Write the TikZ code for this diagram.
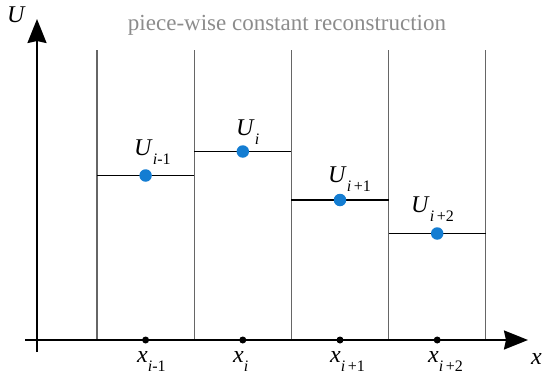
\documentclass[tikz,border=0pt]{standalone}
\usepackage{fontspec}
\setmainfont{Liberation Serif}
\usetikzlibrary{arrows.meta}

\tikzset{
  cell line/.style={draw=gray!80!black, line width=1.1pt},
  level line/.style={draw=black, line width=1.7pt},
  axis line/.style={line width=2.2pt,
                    -{Stealth[length=24pt, width=19pt, inset=2pt]}},
  cdot/.style={circle, fill=ucol, inner sep=0, minimum size=12.5pt},
  xdot/.style={circle, fill=black, inner sep=0, minimum size=7pt},
  lbl/.style={font=\fontsize{24}{26}\selectfont, inner sep=0, anchor=base west},
}
\definecolor{ucol}{RGB}{20,125,210}
\colorlet{tcol}{gray!90}
\newcommand{\sublbl}[1]{\raisebox{-0.4em}{\fontsize{16}{16}\selectfont #1}}

\begin{document}
\begin{tikzpicture}[x=1pt, y=-1pt]
        % 1 unit = 1 px of the 542 x 375 frame, y pointing down
        % cell edges: x = 97 + k*97.2,  k = 0..4
        % cell levels: 175.5, 151.5, 200, 233.5
        % x-axis at y = 340, U-axis at x = 37
        \useasboundingbox (0,0) rectangle (542,375);

        % ---- title ----
        \node[font=\fontsize{23}{25}\selectfont, text=tcol, anchor=base, inner sep=0]
          (title) at (287,30) {piece-wise constant reconstruction};

        % ---- cell edges ----
        \foreach \k in {0,...,4} {
          \pgfmathsetmacro{\cx}{97 + \k*97.2}
          \coordinate (top\k) at (\cx,50);
          \coordinate (bot\k) at (\cx,340);
          \draw[cell line] (top\k) -- (bot\k);
        }

        % ---- axes ----
        \coordinate (o) at (37,340);
        \coordinate (ytail) at (37,352);
        \coordinate (ytip) at (37,19);
        \coordinate (xtail) at (25,340);
        \coordinate (xtip) at (528,340);
        \draw[axis line] (ytail) -- (ytip);
        \draw[axis line] (xtail) -- (xtip);
        \node[lbl] (ulabel) at (7,22) {\textit{U}};
        \node[lbl] (xlabel) at (531,364) {\textit{x}};

        % ---- cell averages ----
        \foreach \k/\lev [count=\n from 1] in {0/175.5, 1/151.5, 2/200, 3/233.5} {
          \pgfmathsetmacro{\xa}{97 + \k*97.2}
          \pgfmathsetmacro{\xb}{97 + \k*97.2 + 97.2}
          \pgfmathsetmacro{\xm}{97 + \k*97.2 + 48.6}
          \coordinate (la\n) at (\xa,\lev);
          \coordinate (lb\n) at (\xb,\lev);
          \draw[level line] (la\n) -- (lb\n);
          \node[cdot] (u\n) at (\xm,\lev) {};
          \node[xdot] (x\n) at (\xm,340) {};
        }

        % ---- U labels ----
        \node[lbl] (ul1) at (134,155) {\textit{U}\sublbl{\textit{i}-1}};
        \node[lbl] (ul2) at (236,135) {\textit{U}\sublbl{\textit{i}}};
        \node[lbl] (ul3) at (328,182) {\textit{U}\sublbl{\textit{i}\,+1}};
        \node[lbl] (ul4) at (411,212) {\textit{U}\sublbl{\textit{i}\,+2}};

        % ---- x labels ----
        \node[lbl] (xl1) at (137,362) {\textit{x}\sublbl{\textit{i}-1}};
        \node[lbl] (xl2) at (233,362) {\textit{x}\sublbl{\textit{i}}};
        \node[lbl] (xl3) at (330,362) {\textit{x}\sublbl{\textit{i}\,+1}};
        \node[lbl] (xl4) at (428,362) {\textit{x}\sublbl{\textit{i}\,+2}};
      \end{tikzpicture}
\end{document}
